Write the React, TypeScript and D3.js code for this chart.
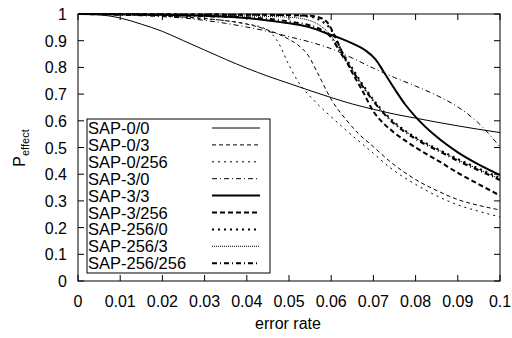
import React from "react";
import * as d3 from "d3";

type Pt = [number, number];

const xTicks = [0, 0.01, 0.02, 0.03, 0.04, 0.05, 0.06, 0.07, 0.08, 0.09, 0.1];
const yTicks = [0, 0.1, 0.2, 0.3, 0.4, 0.5, 0.6, 0.7, 0.8, 0.9, 1];
const xTickLabels = ["0", "0.01", "0.02", "0.03", "0.04", "0.05", "0.06", "0.07", "0.08", "0.09", "0.1"];
const yTickLabels = ["0", "0.1", "0.2", "0.3", "0.4", "0.5", "0.6", "0.7", "0.8", "0.9", "1"];

const seriesNames = [
  "SAP-0/0", "SAP-0/3", "SAP-0/256", "SAP-3/0", "SAP-3/3", "SAP-3/256",
  "SAP-256/0", "SAP-256/3", "SAP-256/256",
];

const sap0_0: Pt[] = [
  [0, 1], [0.005, 0.997], [0.01, 0.985], [0.015, 0.962], [0.02, 0.935], [0.025, 0.9],
  [0.03, 0.865], [0.035, 0.83], [0.04, 0.797], [0.045, 0.767], [0.05, 0.74], [0.055, 0.713],
  [0.06, 0.687], [0.065, 0.663], [0.07, 0.643], [0.075, 0.625], [0.08, 0.61], [0.085, 0.595],
  [0.09, 0.581], [0.095, 0.568], [0.1, 0.556],
];
const sap0_3: Pt[] = [
  [0, 1], [0.01, 0.998], [0.02, 0.993], [0.03, 0.983], [0.035, 0.975], [0.04, 0.962],
  [0.045, 0.94], [0.05, 0.905], [0.0521, 0.884], [0.0545, 0.846], [0.0569, 0.775],
  [0.0602, 0.675], [0.0635, 0.605], [0.0664, 0.553], [0.07, 0.503], [0.0739, 0.448],
  [0.08, 0.38], [0.0858, 0.333], [0.09, 0.305], [0.095, 0.283], [0.1, 0.266],
];
const sap0_256: Pt[] = [
  [0, 1], [0.01, 0.998], [0.02, 0.993], [0.03, 0.982], [0.035, 0.975], [0.04, 0.963],
  [0.0443, 0.945], [0.0474, 0.895], [0.0498, 0.815], [0.0521, 0.748], [0.0562, 0.672],
  [0.06, 0.615], [0.0633, 0.568], [0.07, 0.478], [0.0739, 0.425], [0.08, 0.362],
  [0.0858, 0.313], [0.09, 0.285], [0.095, 0.261], [0.1, 0.24],
];
const sap3_0: Pt[] = [
  [0, 1], [0.01, 0.996], [0.02, 0.99], [0.025, 0.985], [0.03, 0.976], [0.035, 0.965],
  [0.04, 0.951], [0.045, 0.935], [0.05, 0.915], [0.055, 0.895], [0.06, 0.87], [0.065, 0.835],
  [0.07, 0.797], [0.075, 0.762], [0.08, 0.73], [0.085, 0.695], [0.09, 0.652], [0.095, 0.59],
  [0.1, 0.502],
];
const sap3_3: Pt[] = [
  [0, 1], [0.02, 0.997], [0.03, 0.993], [0.035, 0.99], [0.04, 0.985], [0.045, 0.976],
  [0.05, 0.965], [0.055, 0.95], [0.059, 0.927], [0.0625, 0.907], [0.065, 0.89], [0.068, 0.865],
  [0.0705, 0.83], [0.0725, 0.782], [0.075, 0.72], [0.0775, 0.662], [0.08, 0.615],
  [0.085, 0.54], [0.09, 0.482], [0.095, 0.436], [0.1, 0.397],
];
const sap3_256: Pt[] = [
  [0, 1], [0.03, 0.998], [0.05, 0.996], [0.055, 0.993], [0.0575, 0.985], [0.059, 0.97],
  [0.0605, 0.93], [0.0625, 0.86], [0.065, 0.78], [0.0675, 0.71], [0.07, 0.635],
  [0.0723, 0.592], [0.075, 0.555], [0.08, 0.5], [0.0858, 0.446], [0.09, 0.405],
  [0.095, 0.362], [0.1, 0.32],
];
const sap256_0: Pt[] = [
  [0, 1], [0.03, 0.998], [0.05, 0.995], [0.055, 0.99], [0.0575, 0.975], [0.06, 0.94],
  [0.0621, 0.872], [0.0652, 0.792], [0.0685, 0.712], [0.0716, 0.648], [0.075, 0.594],
  [0.08, 0.538], [0.0858, 0.49], [0.09, 0.457], [0.095, 0.421], [0.1, 0.386],
];
const sap256_3: Pt[] = [
  [0, 1], [0.03, 0.995], [0.05, 0.988], [0.055, 0.975], [0.0575, 0.955], [0.06, 0.918],
  [0.0621, 0.862], [0.0652, 0.787], [0.0685, 0.708], [0.0716, 0.645], [0.075, 0.592],
  [0.08, 0.536], [0.0858, 0.488], [0.09, 0.454], [0.095, 0.418], [0.1, 0.382],
];
const sap256_256: Pt[] = [
  [0, 1], [0.03, 0.992], [0.04, 0.987], [0.045, 0.982], [0.05, 0.972], [0.055, 0.957],
  [0.0575, 0.942], [0.06, 0.912], [0.0621, 0.858], [0.0652, 0.783], [0.0685, 0.705],
  [0.0716, 0.642], [0.075, 0.588], [0.08, 0.532], [0.0858, 0.484], [0.09, 0.45],
  [0.095, 0.414], [0.1, 0.378],
];

const seriesData: Pt[][] = [
  sap0_0, sap0_3, sap0_256, sap3_0, sap3_3, sap3_256, sap256_0, sap256_3, sap256_256,
];

const styles = [
  { w: 1, dash: "" },
  { w: 1, dash: "4,3" },
  { w: 1, dash: "2,4" },
  { w: 1, dash: "5,3,1,3" },
  { w: 2, dash: "" },
  { w: 2, dash: "5,3" },
  { w: 2, dash: "2,4" },
  { w: 1, dash: "1,1" },
  { w: 2, dash: "5,3,1,3" },
];

const W = 512;
const H = 338;
const left = 78;
const right = 500;
const top = 14;
const bottom = 281;
const font = "'Liberation Sans', Arial, Helvetica, sans-serif";

export default function App() {
  const x = d3.scaleLinear().domain([0, 0.1]).range([left, right]);
  const y = d3.scaleLinear().domain([0, 1]).range([bottom, top]);
  const line = d3
    .line<Pt>()
    .x((d) => x(d[0]))
    .y((d) => y(d[1]))
    .curve(d3.curveMonotoneX);
  const tl = 6;
  const legX = 87;
  const legY = 119;
  const legW = 183;
  const legH = 154;
  const rowY = (i: number) => 128 + i * 16.9;

  return (
    <svg
      width={W}
      height={H}
      style={{ position: "absolute", left: 0, top: 0, background: "#fff" }}
      fontFamily={font}
    >
      <rect x={0} y={0} width={W} height={H} fill="#fff" />
      <defs>
        <clipPath id="plot">
          <rect x={left} y={top - 1} width={right - left} height={bottom - top + 1} />
        </clipPath>
      </defs>
      {xTicks.map((t, i) => (
        <g key={"xt" + i}>
          <line x1={x(t)} x2={x(t)} y1={bottom} y2={bottom - tl} stroke="#000" />
          <line x1={x(t)} x2={x(t)} y1={top} y2={top + tl} stroke="#000" />
          <text x={x(t)} y={307} fontSize={16} textAnchor="middle">
            {xTickLabels[i]}
          </text>
        </g>
      ))}
      {yTicks.map((t, i) => (
        <g key={"yt" + i}>
          <line x1={left} x2={left + tl} y1={y(t)} y2={y(t)} stroke="#000" />
          <line x1={right} x2={right - tl} y1={y(t)} y2={y(t)} stroke="#000" />
          <text x={67} y={y(t) + 6} fontSize={16} textAnchor="end">
            {yTickLabels[i]}
          </text>
        </g>
      ))}
      <g clipPath="url(#plot)">
        {seriesData.map((d, i) => (
          <path
            key={"s" + i}
            d={line(d) || ""}
            fill="none"
            stroke="#000"
            strokeWidth={styles[i].w}
            strokeDasharray={styles[i].dash || undefined}
          />
        ))}
      </g>
      <rect
        x={left}
        y={top}
        width={right - left}
        height={bottom - top}
        fill="none"
        stroke="#000"
      />
      <rect x={legX} y={legY} width={legW} height={legH} fill="#fff" stroke="#000" />
      {seriesNames.map((n, i) => (
        <g key={"lg" + i}>
          <text x={88} y={rowY(i) + 6} fontSize={16.5}>
            {n}
          </text>
          <line
            x1={212}
            x2={260}
            y1={rowY(i)}
            y2={rowY(i)}
            stroke="#000"
            strokeWidth={styles[i].w}
            strokeDasharray={styles[i].dash || undefined}
          />
        </g>
      ))}
      <text x={288} y={329} fontSize={16} textAnchor="middle">
        error rate
      </text>
      <text transform="translate(25,148) rotate(-90)" fontSize={16} textAnchor="middle">
        P<tspan fontSize={11} dy={4}>effect</tspan>
      </text>
    </svg>
  );
}
